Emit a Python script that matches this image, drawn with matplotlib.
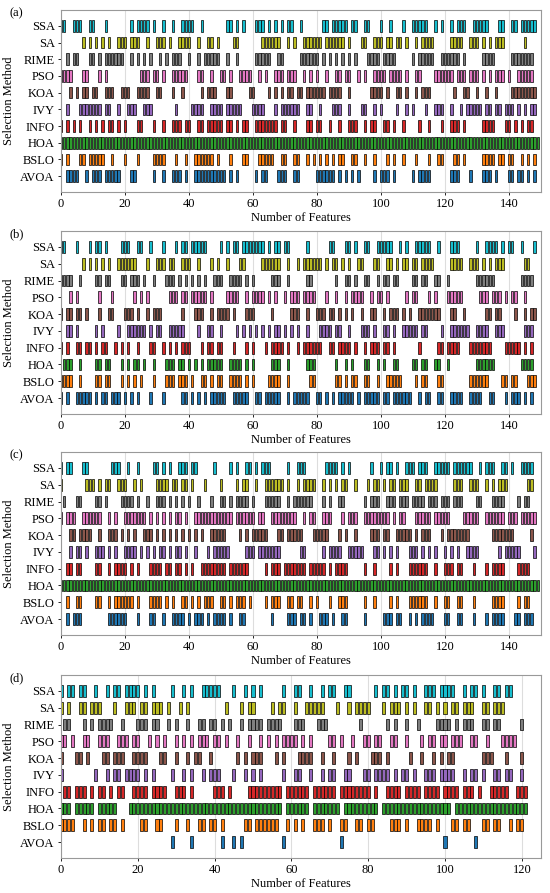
import matplotlib.pyplot as plt

plt.rcParams['font.family'] = ['Liberation Serif', 'DejaVu Serif']
plt.rcParams['font.size'] = 9

# methods from bottom row to top row
methods = ['AVOA', 'BSLO', 'HOA', 'INFO', 'IVY', 'KOA', 'PSO', 'RIME', 'SA', 'SSA']
colors = ['tab:blue', 'tab:orange', 'tab:green', 'tab:red', 'tab:purple',
          'tab:brown', 'tab:pink', 'tab:gray', 'tab:olive', 'tab:cyan']
panel_labels = ['(a)', '(b)', '(c)', '(d)']
n_features = [150, 150, 150, 125]

# selected feature indices per method; a tuple (a, b) means a..b all selected
sel_a = {
    'SSA': [0, 1, 4, 5, 6, 9, 10, 14, 22, 24, 25, 26, 27, 29, 32, 35, 38, 39, 40, 41, 44, 52, 53, 55, 57,
            61, 62, 63, 65, 67, 69, 71, 72, 75, 82, 83, 85, 86, 87, 88, 89, 91, 92, 95, 96, 100, 103, 107,
            110, 111, 112, 113, 114, 117, 119, 122, 124, 125, 126, 129, 130, 131, 132, 133, 137, 138, 141,
            142, 144, 145, 146, 147, 148],
    'SA': [7, 9, 11, 13, 15, 18, 19, 20, 22, 23, 24, 27, 30, 31, 32, 34, 37, 38, 39, 40, 43, 46, 47, 49, 54,
           55, 63, 64, 65, 66, 67, 68, 71, 73, 76, 77, 78, 79, 80, 81, 83, 84, 85, 86, 87, 88, 90, 94, 95, 98,
           99, 100, 102, 103, 105, 106, 108, 111, 113, 114, 115, 116, 122, 123, 124, 125, 128, 129, 130, 132,
           134, 136, 137, 138, 145],
    'RIME': [2, 4, 5, 9, 10, 12, 14, 15, 16, 17, 18, 19, 22, 24, 26, 28, 31, 33, 35, 36, 37, 40, 43, 45, 46,
             47, 48, 49, 52, 55, 61, 62, 63, 64, 65, 68, 69, 75, 76, 77, 78, 79, 80, 82, 84, 86, 88, 90, 92, 96,
             97, 98, 99, 101, 102, 103, 104, 110, 112, 113, 114, 115, 116, 119, 120, 121, 122, 123, 124, 126,
             132, 133, 134, 135, 141, 142, 143, 144, 145, 146, 147],
    'PSO': [0, 1, 2, 3, 7, 8, 12, 14, 25, 26, 27, 29, 30, 32, 35, 36, 37, 38, 39, 43, 44, 47, 50, 51, 53, 56,
            57, 58, 59, 62, 64, 67, 68, 69, 71, 72, 73, 76, 78, 80, 83, 86, 87, 89, 90, 93, 95, 98, 99, 100,
            101, 103, 104, 105, 106, 108, 111, 112, 117, 118, 119, 120, 121, 122, 124, 125, 126, 128, 129,
            130, 132, 134, 136, 137, 138, 140, 143, 144, 145, 146, 147],
    'KOA': [3, 5, 7, 8, 10, 11, 14, 15, 16, 19, 20, 21, 24, 25, 26, 27, 30, 31, 35, 38, 44, 46, 47, 48, 52,
            53, 59, 60, 65, 67, 69, 71, 72, 74, 75, 77, 78, 79, 80, 81, 82, 84, 85, 86, 87, 90, 97, 98, 99,
            100, 102, 105, 106, 108, 111, 113, 114, 115, 123, 126, 127, 130, 133, 136, 141, 142, 143, 144,
            145, 146, 147, 148],
    'IVY': [2, 6, 7, 8, 9, 10, 11, 12, 14, 15, 18, 21, 22, 23, 26, 27, 28, 36, 41, 42, 43, 44, 47, 48, 49,
            50, 52, 53, 54, 55, 56, 60, 61, 62, 63, 67, 69, 70, 71, 72, 73, 74, 77, 78, 81, 85, 86, 87, 90, 94,
            95, 98, 100, 105, 108, 110, 114, 117, 118, 119, 122, 125, 127, 128, 129, 130, 131, 133, 134, 136,
            137, 139, 140, 141, 143, 145, 147, 148],
    'INFO': [0, 2, 4, 6, 9, 11, 13, 15, 16, 18, 20, 24, 25, 29, 32, 35, 36, 37, 39, 40, 43, 44, 46, 47, 48,
             49, 50, 52, 53, 55, 57, 58, 61, 62, 63, 64, 65, 66, 67, 69, 70, 73, 77, 78, 80, 81, 84, 87, 90,
             91, 92, 95, 97, 98, 101, 102, 104, 107, 112, 115, 119, 122, 123, 124, 126, 132, 133, 134, 135,
             139, 140, 142, 144, 146, 147],
    'HOA': [(0, 149)],
    'BSLO': [0, 2, 6, 7, 9, 10, 11, 12, 13, 16, 20, 24, 29, 30, 31, 32, 36, 39, 42, 43, 44, 45, 46, 47, 49,
             53, 57, 58, 62, 63, 64, 65, 66, 69, 70, 73, 74, 77, 79, 81, 83, 85, 87, 88, 91, 92, 95, 98, 102,
             104, 107, 111, 115, 118, 119, 123, 124, 126, 132, 133, 134, 135, 137, 138, 140, 141, 144, 146,
             148],
    'AVOA': [2, 3, 4, 5, 8, 10, 11, 12, 14, 15, 16, 17, 18, 22, 23, 29, 32, 35, 36, 37, 39, 42, 43, 44, 45,
             46, 47, 48, 49, 50, 51, 53, 55, 61, 63, 64, 68, 69, 70, 73, 74, 80, 81, 82, 83, 84, 85, 87, 89,
             91, 93, 98, 100, 101, 102, 104, 110, 112, 113, 114, 115, 122, 123, 124, 128, 132, 133, 134, 136,
             140, 141, 143, 144, 146, 148],
}

sel_b = {
    'SSA': [0, 1, 5, 9, 11, 12, 14, 19, 20, 21, 24, 25, 28, 32, 36, 38, 39, 41, 42, 43, 44, 45, 50, 52, 54,
            55, 57, 58, 59, 60, 61, 62, 63, 65, 67, 68, 70, 71, 77, 84, 85, 89, 90, 92, 95, 96, 99, 100, 101,
            102, 103, 106, 108, 111, 112, 113, 114, 115, 118, 122, 123, 124, 130, 133, 134, 135, 136, 138,
            140, 141, 144, 148],
    'SA': [7, 9, 11, 13, 15, 18, 19, 20, 21, 22, 23, 27, 30, 31, 32, 34, 35, 38, 39, 40, 43, 47, 49, 52, 56,
           57, 63, 64, 65, 66, 67, 68, 71, 74, 76, 77, 78, 79, 80, 81, 83, 85, 86, 88, 90, 93, 94, 98, 99, 102,
           103, 105, 107, 108, 110, 111, 113, 114, 115, 116, 122, 123, 124, 125, 128, 129, 130, 132, 134,
           136, 137, 138, 145, 146],
    'RIME': [0, 1, 2, 3, 6, 11, 12, 14, 15, 19, 20, 22, 23, 24, 26, 29, 33, 34, 35, 37, 39, 41, 43, 45, 48,
             49, 50, 53, 54, 55, 56, 58, 60, 66, 67, 68, 71, 77, 78, 86, 89, 90, 92, 95, 96, 99, 101, 102,
             104, 105, 110, 111, 113, 114, 117, 118, 121, 130, 131, 132, 133, 134, 135, 144, 145, 146, 147],
    'PSO': [3, 5, 12, 16, 23, 25, 27, 34, 35, 36, 38, 39, 41, 42, 43, 44, 45, 47, 52, 53, 54, 55, 58, 60,
            61, 62, 63, 65, 67, 70, 72, 73, 74, 76, 77, 78, 79, 83, 86, 89, 91, 92, 93, 94, 97, 99, 100, 102,
            108, 110, 111, 115, 117, 121, 122, 123, 124, 125, 131, 132, 133, 135, 136, 137, 139, 141, 142,
            145],
    'KOA': [0, 2, 3, 5, 6, 8, 12, 15, 16, 20, 21, 22, 24, 27, 29, 30, 31, 38, 42, 43, 44, 47, 49, 50, 51,
            52, 54, 58, 59, 60, 66, 72, 73, 74, 77, 80, 81, 82, 84, 85, 87, 89, 91, 94, 97, 98, 101, 103, 104,
            105, 107, 109, 112, 113, 114, 115, 116, 117, 118, 122, 123, 126, 133, 134, 136, 137, 142, 145,
            147, 148],
    'IVY': [2, 3, 5, 11, 13, 18, 21, 22, 23, 24, 25, 26, 28, 30, 31, 34, 35, 36, 37, 38, 43, 46, 47, 50, 55,
            57, 59, 61, 63, 65, 67, 68, 70, 72, 74, 77, 81, 82, 83, 84, 86, 87, 90, 94, 95, 96, 98, 101, 102,
            104, 107, 108, 109, 110, 111, 113, 114, 119, 122, 123, 124, 125, 126, 127, 130, 131, 132, 133,
            136, 137, 138, 145, 146, 147],
    'INFO': [0, 2, 5, 6, 8, 9, 11, 13, 14, 17, 19, 21, 24, 28, 29, 32, 34, 36, 38, 39, 40, 44, 46, 47, 49,
             50, 54, 58, 60, 64, 66, 67, 68, 69, 71, 74, 76, 77, 78, 79, 80, 81, 84, 85, 87, 88, 89, 90, 92,
             95, 97, 98, 99, 101, 102, 104, 112, 118, 119, 121, 122, 123, 124, 128, 129, 130, 131, 132, 133,
             134, 139, 140, 141, 142, 143, 145, 147],
    'HOA': [1, 2, 3, 6, 11, 12, 14, 15, 19, 21, 23, 24, 26, 29, 33, 34, 35, 37, 38, 40, 42, 44, 46, 47, 48,
            49, 50, 53, 54, 55, 56, 58, 60, 66, 67, 68, 71, 77, 78, 79, 86, 89, 91, 95, 96, 99, 101, 104, 105,
            110, 111, 113, 114, 117, 118, 121, 130, 131, 132, 133, 134, 135, 144, 145, 146, 147],
    'BSLO': [0, 1, 2, 3, 6, 11, 12, 14, 15, 19, 21, 23, 25, 29, 33, 34, 35, 37, 38, 39, 41, 44, 45, 47, 49,
             50, 53, 54, 55, 56, 58, 60, 65, 66, 67, 68, 71, 78, 79, 86, 87, 89, 91, 92, 95, 96, 99, 102, 103,
             104, 105, 106, 111, 113, 114, 118, 119, 128, 129, 130, 131, 132, 133, 138, 139, 141, 142, 146,
             147, 148],
    'AVOA': [0, 2, 5, 6, 7, 8, 9, 11, 13, 14, 16, 17, 18, 20, 22, 24, 28, 32, 38, 39, 41, 43, 45, 47, 48,
             49, 50, 51, 54, 55, 56, 57, 58, 61, 62, 64, 65, 66, 67, 68, 71, 73, 74, 75, 76, 77, 80, 81, 83,
             85, 87, 88, 89, 90, 91, 93, 95, 96, 97, 98, 99, 101, 102, 104, 105, 106, 107, 108, 109, 112, 114,
             115, 118, 119, 122, 123, 124, 125, 128, 129, 130, 131, 134, 135, 139, 141, 142, 143, 145, 147],
}

sel_c = {
    'SSA': [0, 2, 3, 7, 8, 16, 17, 18, 21, 24, 29, 30, 32, 34, 37, 38, 39, 41, 42, 48, 53, 55, 58, 59, 61,
            63, 64, 65, 71, 74, 75, 76, 83, 84, 85, 86, 88, 90, 97, 100, 102, 103, 105, 108, 109, 110, 112,
            113, 114, 117, 118, 119, 120, 121, 123, 124, 125, 126, 127, 128, 131, 133, 134, 135, 138, 139,
            141, 144, 145, 146, 147],
    'SA': [0, 8, 9, 10, 12, 14, 15, 18, 19, 20, 23, 25, 30, 31, 32, 33, 35, 36, 38, 39, 41, 45, 50, 55, 57,
           58, 61, 64, 65, 66, 67, 68, 69, 71, 74, 76, 77, 78, 79, 82, 84, 86, 88, 89, 92, 96, 98, 99, 101,
           103, 104, 106, 107, 108, 111, 112, 114, 115, 116, 117, 123, 124, 125, 128, 129, 130, 133, 135,
           137, 138, 139, 146, 147],
    'RIME': [1, 5, 6, 11, 12, 14, 19, 20, 21, 22, 24, 27, 30, 31, 32, 34, 36, 38, 40, 43, 47, 50, 51, 53,
             55, 56, 57, 58, 60, 64, 65, 66, 67, 68, 71, 73, 74, 75, 76, 77, 78, 82, 84, 87, 88, 95, 97, 98,
             99, 102, 103, 104, 106, 107, 108, 110, 111, 112, 113, 115, 116, 117, 119, 120, 121, 123, 124,
             125, 130, 131, 135, 136, 137, 138, 143, 145, 146],
    'PSO': [0, 2, 3, 4, 7, 8, 9, 10, 11, 12, 15, 17, 20, 21, 22, 23, 24, 25, 26, 28, 30, 32, 34, 36, 37,
            39, (42, 53), (55, 60), 62, 63, (66, 73), 76, 78, 79, 82, 83, 84, 88, 90, 91, 92, (95, 102), 104,
            106, 107, 111, 112, 113, 114, 115, (117, 121), (126, 130), (133, 138), 140, 141, 142, (144, 148)],
    'KOA': [3, 4, 6, 7, 8, 9, 12, 15, 16, 17, 19, 21, 23, 26, 27, 28, 30, 32, 34, 36, 38, 40, 42, 44, 47,
            48, 49, 50, 51, 56, 58, 60, 61, 62, 63, 64, 68, 69, 71, 72, 73, 74, 75, 79, 80, 81, 82, 83, 87,
            89, 92, 97, 98, 99, 101, 102, 105, 106, 107, 108, 109, 111, 113, 114, 115, 119, 121, 122, 123,
            124, 125, 126, 127, 135, 136, 137, 138, 139, 140, 141, 147],
    'IVY': [3, 5, 6, 8, 11, 12, 13, 15, 17, 20, 21, 22, 23, 25, 27, 29, 31, 32, 34, 36, 37, 39, 42, 46, 48,
            49, 50, 51, 52, 58, 59, 60, 62, 63, 64, 65, 66, 67, 68, 75, 76, 82, 84, 85, 86, 87, 90, 91, 92,
            93, 94, 98, 99, 101, 103, 105, 109, 110, 111, 113, 115, 117, 120, 122, 124, 127, 128, 129, 130,
            137, 139, 140, 141, 142, 143, 148],
    'INFO': [2, 3, 5, 6, 11, 12, 15, 17, 18, 19, 20, 22, 24, 28, 29, 30, 31, 33, 34, 36, 37, 39, 41, 44,
             45, 46, 47, 48, 49, 50, 51, 53, 54, 55, 56, 57, 58, 64, 66, 67, 68, 70, 71, 72, 73, 74, 75, 76,
             78, 79, 80, 81, 82, 84, 86, 87, 88, 89, 95, 98, 103, 105, 109, 110, 111, 112, 113, 114, 117, 120,
             121, 122, 124, 125, 129, 133, 135, 136, 137, 138, 143, 144, 145, 146],
    'HOA': [(0, 149)],
    'BSLO': [2, 5, 6, 11, 12, 15, 17, 18, 19, 20, 21, 22, 24, 28, 29, 30, 31, 33, 35, 38, 39, 41, 43, 45,
             46, 47, 50, 51, 53, 55, 56, 57, 59, 64, 66, 67, 68, 71, 72, 74, 75, 78, 80, 84, 87, 88, 89, 95,
             98, 103, 105, 109, 110, 111, 112, 113, 114, 117, 120, 121, 124, 125, 129, 135, 136, 137, 138,
             143, 145, 146],
    'AVOA': [2, 4, 5, 6, 15, 16, 17, 18, 19, 20, 24, 28, 29, 32, 35, 36, 37, 38, 40, 42, 43, 44, 46, 48, 49,
             50, 51, 53, 56, 57, 66, 71, 72, 73, 75, 76, 78, 81, 82, 83, 85, 88, 89, 95, 101, 102, 103, 105,
             106, 109, 111, 113, 114, 115, 116, 120, 121, 124, 125, 129, 133, 135, 136, 137, 138, 142, 143,
             145, 146, 147],
}

sel_d = {
    'SSA': [0, 2, 3, 5, 6, 9, 12, 14, 15, 17, 18, 19, 20, 22, 24, 29, 32, 34, 37, 38, 39, 40, 41, 45, 48,
            50, 52, 58, 61, 62, 65, 68, 70, 71, 74, 75, 82, 84, 85, 87, 89, 90, 92, 95, 96, 97, 99, 100, 101,
            102, 105, 107, 108, 110, 113, 114, 116, 117],
    'SA': [0, 2, 5, 6, 8, 9, 10, 14, 17, 18, 19, 21, 22, 24, 25, 26, 28, 31, 33, 43, 47, 49, 50, 55, 57, 58,
           61, 64, 65, 66, 67, 68, 72, 75, 77, 78, 79, 80, 84, 86, 87, 88, 90, 92, 95, 96, 98, 100, 102, 103,
           105, 106, 107, 110, 111, 113, 114, 115],
    'RIME': [1, 2, 6, 8, 10, 11, 12, 13, 16, 20, 21, 22, 24, 25, 28, 30, 33, 36, 37, 39, 40, 42, 44, 47, 49,
             50, 51, 52, 54, 55, 56, 57, 61, 62, 63, 67, 68, 69, 78, 85, 87, 90, 93, 98, 99, 100, 101, 103,
             105, 106, 107, 110, 111, 113, 114, 120],
    'PSO': [0, 1, 3, 6, 7, 10, 11, 12, 15, 16, 17, 19, 20, 23, 25, 27, 30, 32, 34, 36, 37, 38, 40, 41, 43,
            46, 49, 52, 54, 56, 58, 59, 60, 61, 63, 65, 70, 71, 73, 76, 79, 80, 82, 83, 86, 87, 90, 94, 96,
            97, 99, 100, 102, 103, 104, 107, 108, 111, 115, 116, 117, 118],
    'KOA': [0, 4, 5, 7, 11, 12, 14, 15, 16, 19, 20, 21, 22, 26, 27, 30, 33, 35, 36, 39, 46, 48, 50, 51, 52,
            56, 58, 62, 63, 64, 65, 68, 71, 75, 77, 81, 82, 83, 85, 91, 94, 97, 99, 101, 102, 110, 111, 112,
            116, 120],
    'IVY': [0, 9, 12, 14, 15, 17, 18, 19, 20, 22, 24, 29, 32, 34, 37, 39, 40, 41, 45, 48, 50, 52, 58, 61,
            62, 65, 68, 70, 71, 74, 75, 79, 80, 82, 83, 84, 85, 87, 89, 90, 92, 95, 96, 97, 99, 100, 101, 102,
            105, 107, 108, 110, 113, 114, 116, 117, 120],
    'INFO': [1, 2, 4, 5, 6, 8, 10, 11, 13, 15, 16, (19, 22), (24, 27), 30, 31, 32, 34, 40, 41, 42, 44,
             (49, 57), (59, 64), (66, 71), (73, 80), 82, (85, 88), (90, 93), (95, 98), (100, 103),
             (105, 107), 109, (112, 116), (119, 121)],
    'HOA': [(0, 2), (4, 8), (10, 14), (18, 57), (59, 64), (66, 72), (74, 82), (84, 101), (103, 121)],
    'BSLO': [0, 1, 2, 3, 6, 8, 10, 11, 13, 14, 16, 21, 22, 25, 26, 30, 33, 36, 37, 39, 40, 42, 48, 49, 51,
             (52, 56), 59, 61, 63, 66, 67, 68, 70, 73, 74, 77, 78, 80, 81, 86, 87, 88, 90, 93, 94, 95, 96, 98,
             102, 103, 105, 106, 110, 111, 113, 114, 117, 119, 120],
    'AVOA': [29, 34, 42, 45, 47, 58, 73, 100, 108],
}

panels = [sel_a, sel_b, sel_c, sel_d]


def expand(items):
    out = set()
    for it in items:
        if isinstance(it, tuple):
            out.update(range(it[0], it[1] + 1))
        else:
            out.add(it)
    return sorted(out)


fig = plt.figure(figsize=(5.5, 8.93), dpi=100)
W, H = 550, 893
# axes boxes in pixels: (top, bottom)
boxes = [(10, 192), (231, 414), (452, 635), (675, 858)]

for sel, n, lab, (top, bot) in zip(panels, n_features, panel_labels, boxes):
    ax = fig.add_axes([61 / W, 1 - bot / H, 480 / W, (bot - top) / H])
    for i, m in enumerate(methods):
        feats = expand(sel[m])
        ax.bar(feats, 0.7, bottom=i - 0.35, width=0.8, color=colors[i],
               edgecolor='black', linewidth=0.5, zorder=2)
    ax.set_xlim(0, n)
    ax.set_ylim(-0.95, 9.95)
    ax.set_yticks(range(len(methods)))
    ax.set_yticklabels(methods)
    ax.grid(axis='x', color='#dddddd', linewidth=0.8, zorder=0)
    ax.set_axisbelow(True)
    for s in ax.spines.values():
        s.set_color('#999999')
        s.set_linewidth(0.8)
    ax.tick_params(length=2.5, width=0.6, pad=2, labelsize=9)
    ax.set_xlabel('Number of Features', labelpad=1)
    ax.set_ylabel('Selection Method', labelpad=4)
    fig.text(9 / W, 1 - (top + 3) / H, lab, ha='left', va='center', fontsize=9)

fig.savefig('out.png', dpi=100)
